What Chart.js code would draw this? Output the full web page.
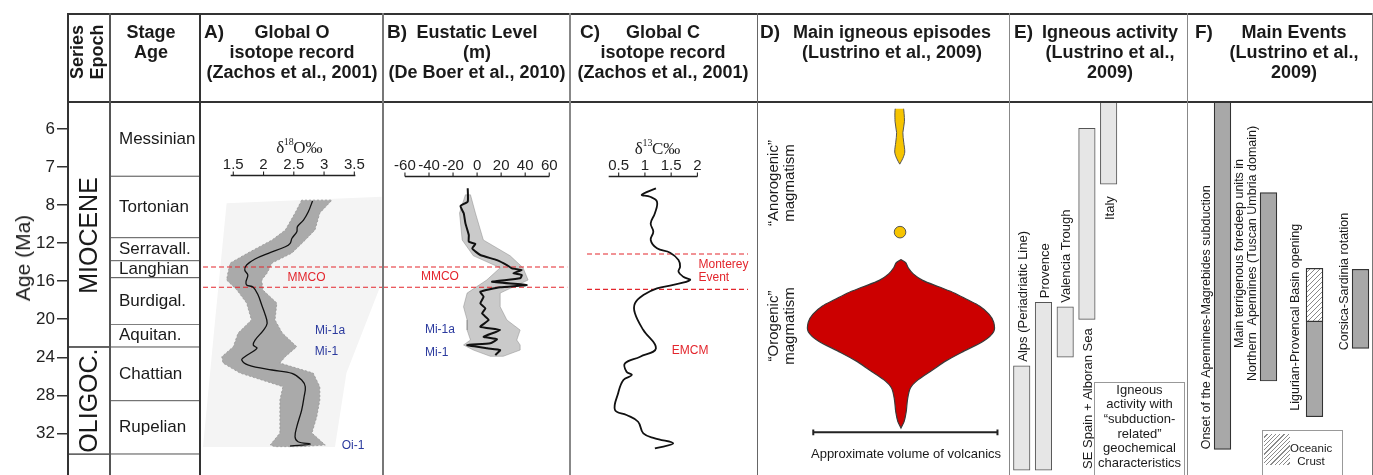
<!DOCTYPE html>
<html>
<head>
<meta charset="utf-8">
<script src="https://cdn.jsdelivr.net/npm/chart.js@4.4.1/dist/chart.umd.min.js"></script>
<style>
  html, body { margin: 0; padding: 0; background: #fff; }
  #fig { position: relative; width: 1373px; height: 475px; overflow: hidden; background: #fff;
         font-family: "Liberation Sans", Arial, sans-serif; color: #1a1a1a; }
  #fig canvas { position: absolute; top: 102px; }
  .t { position: absolute; white-space: nowrap; z-index: 6; }
  .hd { position: absolute; font-weight: bold; font-size: 18px; line-height: 20px; text-align: center;
        white-space: nowrap; width: 300px; top: 22px; z-index: 6; }
  .lt { position: absolute; font-weight: bold; font-size: 19px; line-height: 20px; top: 22px; z-index: 6; }
  .ln { position: absolute; z-index: 5; }
  .rot { position: absolute; transform: translate(-50%, -50%) rotate(-90deg); white-space: nowrap;
         text-align: center; z-index: 6; }
</style>
</head>
<body>
<div id="fig">
  <!-- table frame -->
  <div class="ln" style="left:67px;top:13px;width:1306px;height:2px;background:#333"></div>
  <div class="ln" style="left:67px;top:101px;width:1306px;height:2px;background:#333"></div>
  <div class="ln" style="left:67px;top:13px;width:2px;height:462px;background:#333"></div>
  <div class="ln" style="left:109px;top:13px;width:1.5px;height:462px;background:#555"></div>
  <div class="ln" style="left:199px;top:13px;width:2px;height:462px;background:#333"></div>
  <div class="ln" style="left:382px;top:13px;width:1.5px;height:462px;background:#777"></div>
  <div class="ln" style="left:569px;top:13px;width:1.5px;height:462px;background:#888"></div>
  <div class="ln" style="left:756.5px;top:13px;width:1.5px;height:462px;background:#666"></div>
  <div class="ln" style="left:1008.5px;top:13px;width:1.5px;height:462px;background:#888"></div>
  <div class="ln" style="left:1186.5px;top:13px;width:1.5px;height:462px;background:#888"></div>
  <div class="ln" style="left:1371.5px;top:13px;width:1.5px;height:462px;background:#777"></div>

  <!-- header -->
  <div class="rot" style="left:77px;top:52px;font-weight:bold;font-size:18px;">Series</div>
  <div class="rot" style="left:97px;top:52px;font-weight:bold;font-size:18px;">Epoch</div>
  <div class="hd" style="left:1px;">Stage<br>Age</div>
  <div class="lt" style="left:204px;">A)</div>
  <div class="hd" style="left:142px;">Global O<br>isotope record<br>(Zachos et al., 2001)</div>
  <div class="lt" style="left:387px;">B)</div>
  <div class="hd" style="left:327px;">Eustatic Level<br>(m)<br>(De Boer et al., 2010)</div>
  <div class="lt" style="left:580px;">C)</div>
  <div class="hd" style="left:513px;">Global C<br>isotope record<br>(Zachos et al., 2001)</div>
  <div class="lt" style="left:760px;">D)</div>
  <div class="hd" style="left:742px;">Main igneous episodes<br>(Lustrino et al., 2009)</div>
  <div class="lt" style="left:1014px;">E)</div>
  <div class="hd" style="left:960px;">Igneous activity<br>(Lustrino et al.,<br>2009)</div>
  <div class="lt" style="left:1195px;">F)</div>
  <div class="hd" style="left:1144px;">Main Events<br>(Lustrino et al.,<br>2009)</div>

  <!-- axis title -->
  <div class="rot" style="left:23px;top:258px;font-size:21px;color:#222;">Age (Ma)</div>

  <!-- D annotations -->
  <div class="rot" style="left:772px;top:183px;font-size:15px;">“Anorogenic”</div>
  <div class="rot" style="left:788px;top:183px;font-size:15px;">magmatism</div>
  <div class="rot" style="left:772px;top:326px;font-size:15px;">“Orogenic”</div>
  <div class="rot" style="left:788px;top:326px;font-size:15px;">magmatism</div>
  <div class="t" style="left:806px;top:446px;width:200px;text-align:center;font-size:13px;line-height:16px;">Approximate volume of volcanics</div>

  <!-- E legend box -->
  <div class="t" style="left:1094px;top:381.5px;width:89px;height:100px;border:1px solid #999;"></div>
  <div class="t" style="left:1094px;top:382.5px;width:91px;text-align:center;font-size:13px;line-height:14.7px;">Igneous<br>activity with<br>“subduction-<br>related”<br>geochemical<br>characteristics</div>

  <!-- F legend box -->
  <div class="t" style="left:1261.5px;top:430px;width:79px;height:50px;border:1px solid #999;"></div>
  <div class="t" style="left:1264px;top:433.5px;width:26px;height:31px;background:repeating-linear-gradient(135deg,#fff 0 2px,#8a8a8a 2px 3px);"></div>
  <div class="t" style="left:1290px;top:442px;width:42px;text-align:center;font-size:11.5px;line-height:13px;">Oceanic<br>Crust</div>
</div>

<script>
// ---------------- DATA ----------------
const AGE_TICKS = [6, 7, 8, 12, 16, 20, 24, 28, 32];
const AGE_TOP = 5.29;
const AGE_BOTTOM = 36.38;

const epochNames = ['MIOCENE', 'OLIGOC.', ''];
const epochBounds = [[5.0, 22.92], [22.92, 34.18], [34.18, 40]];

const stageNames = ['Messinian', 'Tortonian', 'Serravall.', 'Langhian', 'Burdigal.', 'Aquitan.', 'Chattian', 'Rupelian', ''];
const stageBounds = [[5.0, 7.24], [7.24, 11.43], [11.43, 13.85], [13.85, 15.63], [15.63, 20.54], [20.54, 22.92], [22.92, 28.57], [28.57, 34.18], [34.18, 40]];

// A) global d18O (Zachos et al., 2001)
const o18Ticks = [1.5, 2, 2.5, 3, 3.5];
const o18Age = [7.89, 8.70, 9.57, 10.27, 10.80, 11.49, 12.02, 12.38, 13.07, 13.67, 14.30, 14.83, 15.35, 16.06, 16.40, 16.64, 17.46, 18.51, 19.38, 20.43, 21.14, 22.19, 22.71, 23.06, 23.94, 24.29, 24.82, 25.34, 25.69, 26.39, 27.10, 28.15, 29.55, 31.30, 32.36, 32.88, 33.12, 33.23, 33.33];
const o18Val = [2.81, 2.74, 2.66, 2.56, 2.55, 2.47, 2.44, 2.36, 2.08, 1.86, 1.72, 1.69, 1.74, 1.71, 1.72, 1.83, 1.91, 1.97, 2.02, 2.06, 2.00, 1.86, 1.83, 1.89, 1.69, 1.64, 1.75, 2.14, 2.47, 2.63, 2.69, 2.67, 2.63, 2.55, 2.52, 2.57, 2.77, 2.63, 2.44];
const o18CloudAge = [7.87, 8.83, 10.62, 11.67, 13.04, 14.09, 15.14, 15.88, 16.93, 18.30, 20.08, 21.45, 22.89, 23.94, 24.61, 25.66, 27.10, 28.50, 30.25, 31.97, 33.23, 33.40];
const o18CloudMin = [2.63, 2.52, 2.36, 2.14, 1.74, 1.45, 1.41, 1.39, 1.56, 1.72, 1.80, 1.58, 1.50, 1.31, 1.33, 1.61, 2.32, 2.27, 2.27, 2.27, 2.11, 2.19];
const o18CloudMax = [3.13, 2.93, 2.85, 2.69, 2.47, 2.14, 2.06, 1.97, 1.99, 2.22, 2.19, 2.31, 2.55, 2.36, 2.27, 2.82, 2.93, 2.93, 2.88, 2.80, 3.02, 2.60];
const o18ShadeAge = [7.95, 7.78, 16.19, 25.66, 33.44, 33.44, 20.08];
const o18ShadeVal = [1.39, 3.95, 3.95, 3.37, 3.18, 1.00, 1.20];
const mmcoAges = [14.51, 16.64];

// B) eustatic level (De Boer et al., 2010)
const seaTicks = [-60, -40, -20, 0, 20, 40, 60];
const seaAge = [7.56, 7.91, 8.10, 8.86, 9.92, 11.15, 11.85, 12.09, 12.55, 13.25, 13.78, 14.30, 14.65, 14.83, 15.17, 15.35, 15.70, 16.06, 16.40, 16.64, 17.11, 17.64, 18.33, 18.86, 19.38, 20.08, 20.79, 21.14, 21.84, 22.11, 22.53, 22.71, 23.06, 23.24, 23.76];
const seaLevel = [-7.8, -7.8, -13.8, -11.1, -9.7, -6.9, -6.9, -1.4, -4.1, 2.7, 16.5, 24.8, 28.9, 37.2, 30.2, 37.2, 35.8, 12.4, 41.3, 19.2, 2.7, 5.4, 2.7, 6.9, 4.1, 9.6, 2.7, 19.2, 5.4, 16.5, 11.0, -8.3, 8.3, 19.2, 15.1];
const seaBandAge = [7.73, 8.83, 11.67, 13.33, 14.59, 15.88, 17.25, 18.69, 20.08, 21.14, 22.19, 22.71, 23.24, 23.90];
const seaBandMin = [-9.7, -14.6, -12.4, -3.1, 19.2, 8.0, -8.3, -11.3, -8.3, -8.3, -5.5, -11.3, -3.1, 11.0];
const seaBandMax = [-5.5, -1.4, 5.2, 27.5, 38.2, 42.4, 19.2, 19.2, 24.8, 35.8, 33.0, 35.8, 35.8, 21.7];

// C) global d13C (Zachos et al., 2001)
const c13Ticks = [0.5, 1, 1.5, 2];
const c13Age = [7.56, 7.73, 7.78, 7.91, 8.86, 9.92, 10.80, 11.67, 12.55, 13.01, 13.78, 14.48, 15.00, 15.53, 15.88, 16.40, 16.75, 17.46, 18.33, 19.38, 21.14, 23.06, 23.94, 24.64, 25.52, 25.87, 26.39, 27.79, 29.55, 30.07, 30.78, 32.00, 32.52, 33.05, 33.58];
const c13Val = [1.21, 0.94, 1.10, 1.23, 1.19, 1.11, 1.16, 1.11, 1.23, 1.48, 1.64, 1.67, 1.64, 1.73, 1.86, 1.54, 1.23, 0.97, 0.81, 0.81, 0.97, 1.21, 0.91, 0.62, 0.65, 0.75, 0.59, 0.49, 0.43, 0.65, 0.87, 0.97, 1.19, 1.54, 1.19];
const montereyAges = [13.14, 16.86];

// D) main igneous episodes (relative volume, half-width)
const orogenicAge = [13.60, 13.95, 14.48, 15.17, 15.88, 16.58, 17.28, 17.98, 18.68, 19.56, 20.43, 21.48, 22.53, 23.58, 24.64, 25.69, 26.74, 27.62, 28.84, 30.25, 31.30, 32.00];
const orogenicWidth = [0, 0.05, 0.075, 0.13, 0.23, 0.40, 0.57, 0.70, 0.83, 0.93, 0.98, 0.98, 0.87, 0.67, 0.48, 0.33, 0.18, 0.10, 0.07, 0.055, 0.033, 0];
const anorogenicAge = [5.20, 5.63, 5.94, 6.20, 6.47, 6.64, 6.80];
const anorogenicWidth = [0.038, 0.05, 0.033, 0.042, 0.053, 0.033, 0];
const anorogenicPulseAge = [10.62];

// E) igneous activity
const igneousNames = ['Alps (Periadriatic Line)', 'Provence', 'Valencia Trough', 'SE Spain + Alboran Sea', 'Italy'];
const igneousRanges = [[24.89, 35.86], [18.22, 35.86], [18.69, 24.00], [5.98, 20.01], [5.0, 7.45]];

// F) main events
const eventNames = [['Onset of the Apennines-Magrebides subduction'], ['Main terrigenous foredeep units in', 'Northern  Apennines (Tuscan Umbria domain)'], ['Ligurian-Provencal Basin opening'], ['Corsica-Sardinia rotation']];
const eventRanges = [[5.0, 33.68], [7.67, 26.50], [14.65, 30.25], [14.75, 23.06]];
const oceanicCrustRanges = [null, null, [14.65, 20.26], null];

// ---------------- AGE SCALE ----------------
function ageToIdx(a) {
  const T = AGE_TICKS, n = T.length;
  if (a <= T[0]) return (a - T[0]) / (T[1] - T[0]);
  if (a >= T[n - 1]) return (n - 1) + (a - T[n - 1]) / (T[n - 1] - T[n - 2]);
  for (let i = 0; i < n - 1; i++) if (a <= T[i + 1]) return i + (a - T[i]) / (T[i + 1] - T[i]);
  return n - 1;
}
function idxToAge(k) {
  const T = AGE_TICKS, n = T.length;
  if (k <= 0) return T[0] + k * (T[1] - T[0]);
  if (k >= n - 1) return T[n - 1] + (k - n + 1) * (T[n - 1] - T[n - 2]);
  const i = Math.floor(k);
  return T[i] + (k - i) * (T[i + 1] - T[i]);
}
class AgeScale extends Chart.LinearScale {
  static id = 'age';
  static defaults = { ticks: { callback: (v) => String(v) } };
  buildTicks() { return AGE_TICKS.map(v => ({ value: v })); }
  configure() {
    super.configure();
    this._startValue = ageToIdx(this.min);
    this._endValue = ageToIdx(this.max);
    this._valueRange = this._endValue - this._startValue;
  }
  getPixelForValue(v) {
    if (v === null || v === undefined || isNaN(v)) return NaN;
    return this.getPixelForDecimal((ageToIdx(v) - this._startValue) / this._valueRange);
  }
  getValueForPixel(p) {
    return idxToAge(this._startValue + this.getDecimalForPixel(p) * this._valueRange);
  }
}
Chart.register(AgeScale);
Chart.defaults.font.family = '"Liberation Sans", Arial, sans-serif';

// ---------------- HELPERS ----------------
const FIG = document.getElementById('fig');
const PLOT_H = 373;
const RED = '#e3262d', BLUE = '#2b3a9e';

function canvasAt(left, width) {
  const c = document.createElement('canvas');
  c.width = width; c.height = PLOT_H;
  c.style.left = left + 'px'; c.style.width = width + 'px'; c.style.height = PLOT_H + 'px';
  FIG.appendChild(c);
  return c;
}
function ageAxis(extra) {
  return Object.assign({ type: 'age', min: AGE_TOP, max: AGE_BOTTOM, reverse: true, display: false }, extra || {});
}
function baseOptions(xScale, yScale, padding) {
  return {
    responsive: false, maintainAspectRatio: false, animation: false, devicePixelRatio: 1,
    events: [],
    layout: { padding: padding || 0 },
    plugins: { legend: { display: false }, tooltip: { enabled: false } },
    scales: { x: xScale, y: yScale || ageAxis() }
  };
}
function pairs(xs, ages) { return ages.map((a, i) => ({ x: xs[i], y: a })); }
function bandPolygon(ages, lo, hi) {
  const pts = ages.map((a, i) => ({ x: lo[i], y: a }));
  for (let i = ages.length - 1; i >= 0; i--) pts.push({ x: hi[i], y: ages[i] });
  pts.push({ x: lo[0], y: ages[0] });
  return pts;
}
function mirrorPolygon(ages, hw) {
  const pts = ages.map((a, i) => ({ x: hw[i], y: a }));
  for (let i = ages.length - 1; i >= 0; i--) pts.push({ x: -hw[i], y: ages[i] });
  pts.push({ x: hw[0], y: ages[0] });
  return pts;
}
function hLine(age, x0, x1, color) {
  return { type: 'line', data: [{ x: x0, y: age }, { x: x1, y: age }], borderColor: color,
           borderWidth: 1.2, borderDash: [5, 3], pointRadius: 0, fill: false };
}

// draws rotated / horizontal labels attached to bar elements
const barText = {
  id: 'barText',
  afterDatasetsDraw(chart) {
    const ctx = chart.ctx, area = chart.chartArea;
    chart.data.datasets.forEach((ds, di) => {
      const cfg = ds.textCfg;
      if (!cfg) return;
      const meta = chart.getDatasetMeta(di);
      meta.data.forEach((el, i) => {
        let lines = cfg.labels[i];
        if (!lines || !lines.length) return;
        if (!Array.isArray(lines)) lines = [lines];
        const p = el.getProps(['x', 'y', 'base', 'width'], true);
        const top = Math.max(Math.min(p.y, p.base), area.top);
        const bot = Math.min(Math.max(p.y, p.base), area.bottom);
        const mode = Array.isArray(cfg.mode) ? cfg.mode[i] : cfg.mode;
        const gap = Array.isArray(cfg.gap) ? cfg.gap[i] : (cfg.gap || 0);
        const dy = Array.isArray(cfg.dy) ? cfg.dy[i] : (cfg.dy || 0);
        ctx.save();
        ctx.font = cfg.font;
        ctx.fillStyle = cfg.color || '#1a1a1a';
        ctx.textBaseline = 'middle';
        if (mode === 'left') {
          ctx.textAlign = 'left';
          ctx.fillText(lines[0], p.x - p.width / 2 + cfg.dx, (top + bot) / 2 + dy);
          ctx.restore();
          return;
        }
        const lh = cfg.lineHeight || 14;
        const widths = lines.map(s => ctx.measureText(s).width);
        const maxW = Math.max(...widths);
        let ox = p.x + (cfg.dx || 0), oy = (top + bot) / 2;
        if (mode === 'above') oy = top - gap;
        else if (mode === 'below') oy = bot + gap;
        else if (mode === 'sideStart') { ox = p.x - p.width / 2 - gap; oy = bot; }
        else if (mode === 'sideEnd') { ox = p.x - p.width / 2 - gap; oy = top; }
        oy += dy;
        ctx.translate(ox, oy);
        ctx.rotate(-Math.PI / 2);
        ctx.textAlign = 'left';
        lines.forEach((s, k) => {
          const ly = -(lines.length - 1 - k) * lh;
          let lx;
          if (mode === 'vcenter') lx = -widths[k] / 2;
          else if (mode === 'above' || mode === 'sideStart') lx = (maxW - widths[k]) / 2;
          else lx = -maxW + (maxW - widths[k]) / 2;
          ctx.fillText(s, lx, ly);
        });
        ctx.restore();
      });
    });
  }
};

// small in-panel value axis drawn through the chart's own x scale
function miniAxis(o) {
  return {
    id: 'miniAxis',
    afterDatasetsDraw(chart) {
      const ctx = chart.ctx, xs = chart.scales.x, ys = chart.scales.y;
      const y = Math.round(ys.getPixelForValue(o.age)) + 0.5;
      ctx.save();
      ctx.strokeStyle = '#222'; ctx.fillStyle = '#222'; ctx.lineWidth = 1.4;
      ctx.beginPath();
      ctx.moveTo(xs.getPixelForValue(o.from), y);
      ctx.lineTo(xs.getPixelForValue(o.to), y);
      ctx.stroke();
      ctx.lineWidth = 1.1;
      ctx.font = '15px "Liberation Sans"'; ctx.textAlign = 'center'; ctx.textBaseline = 'middle';
      o.ticks.forEach(v => {
        const x = xs.getPixelForValue(v);
        ctx.beginPath(); ctx.moveTo(x, y); ctx.lineTo(x, y - 4); ctx.stroke();
        ctx.fillText(String(v), x, y - 11);
      });
      if (o.title) {
        const [a, sup, b] = o.title;
        const big = '17px "Liberation Serif"', small = '10px "Liberation Serif"';
        ctx.font = big; const wa = ctx.measureText(a).width, wb = ctx.measureText(b).width;
        ctx.font = small; const ws = ctx.measureText(sup).width;
        let x = xs.getPixelForValue(o.titleAt) - (wa + ws + wb) / 2;
        const bl = y - 23;
        ctx.textAlign = 'left'; ctx.textBaseline = 'alphabetic';
        ctx.font = big; ctx.fillText(a, x, bl); x += wa;
        ctx.font = small; ctx.fillText(sup, x - 0.5, bl - 8); x += ws;
        ctx.font = big; ctx.fillText(b, x - 1, bl);
      }
      ctx.restore();
    }
  };
}
function notes(list) {
  return {
    id: 'notes',
    afterDatasetsDraw(chart) {
      const ctx = chart.ctx, xs = chart.scales.x, ys = chart.scales.y;
      ctx.save();
      ctx.font = '12px "Liberation Sans"'; ctx.textBaseline = 'middle';
      list.forEach(n => {
        ctx.fillStyle = n.color; ctx.textAlign = n.align || 'center';
        ctx.fillText(n.text, xs.getPixelForValue(n.x), ys.getPixelForValue(n.age));
      });
      ctx.restore();
    }
  };
}

const hatch = (() => {
  const c = document.createElement('canvas'); c.width = 5; c.height = 5;
  const g = c.getContext('2d');
  g.fillStyle = '#fff'; g.fillRect(0, 0, 5, 5);
  g.strokeStyle = '#7a7a7a'; g.lineWidth = 0.9;
  g.beginPath();
  g.moveTo(0, 5); g.lineTo(5, 0);
  g.moveTo(-1, 1); g.lineTo(1, -1);
  g.moveTo(4, 6); g.lineTo(6, 4);
  g.stroke();
  return g.createPattern(c, 'repeat');
})();

// ---------------- AGE AXIS + EPOCHS ----------------
new Chart(canvasAt(0, 110), {
  type: 'bar',
  data: { labels: ['epoch'], datasets: [{
    data: epochBounds.map(r => ({ x: 'epoch', y: r })),
    backgroundColor: '#fff', borderColor: '#333',
    borderWidth: { top: 1, bottom: 1, left: 0, right: 0 }, borderSkipped: false,
    categoryPercentage: 1, barPercentage: 1,
    textCfg: { labels: epochNames, mode: 'vcenter', dx: 1, dy: [11, 0, 0], font: '25px "Liberation Sans"', color: '#1a1a1a' }
  }]},
  options: baseOptions({ type: 'category', display: false }, ageAxis({
    display: true, position: 'left',
    border: { display: false },
    grid: { drawOnChartArea: false, drawTicks: true, tickLength: 11, color: '#333', lineWidth: 1.5 },
    ticks: { autoSkip: false, padding: 2, color: '#222', font: { size: 17 } },
    afterFit(s) { s.width = 68; s.paddingTop = 0; s.paddingBottom = 0; }
  })),
  plugins: [barText]
});

// ---------------- STAGES ----------------
new Chart(canvasAt(110, 90), {
  type: 'bar',
  data: { labels: ['stage'], datasets: [{
    data: stageBounds.map(r => ({ x: 'stage', y: r })),
    backgroundColor: '#fff', borderColor: '#555',
    borderWidth: { top: 0.8, bottom: 0.8, left: 0, right: 0 }, borderSkipped: false,
    categoryPercentage: 1, barPercentage: 1,
    textCfg: { labels: stageNames, mode: 'left', dx: 9, font: '17px "Liberation Sans"', color: '#1a1a1a' }
  }]},
  options: baseOptions({ type: 'category', display: false }),
  plugins: [barText]
});

// ---------------- A) d18O ----------------
new Chart(canvasAt(200, 183), {
  type: 'line',
  data: { datasets: [
    { indexAxis: 'y', data: pairs(o18Val, o18Age), borderColor: '#111', borderWidth: 1.3,
      pointRadius: 0, tension: 0.35, fill: false },
    hLine(mmcoAges[0], 1.0, 3.974, RED),
    hLine(mmcoAges[1], 1.0, 3.974, RED),
    { indexAxis: 'y', data: bandPolygon(o18CloudAge, o18CloudMin, o18CloudMax), borderColor: 'rgba(150,150,150,0.8)',
      borderWidth: 1, borderDash: [2, 2], backgroundColor: '#aaaaaa', pointRadius: 0, tension: 0, fill: 'shape' },
    { indexAxis: 'y', data: pairs(o18ShadeVal, o18ShadeAge).concat([{ x: o18ShadeVal[0], y: o18ShadeAge[0] }]),
      borderColor: 'rgba(0,0,0,0)', borderWidth: 0, backgroundColor: '#f4f4f4', pointRadius: 0, tension: 0, fill: 'shape' }
  ]},
  options: baseOptions({ type: 'linear', min: 0.95, max: 3.974, display: false, bounds: 'data' }),
  plugins: [
    miniAxis({ age: 7.209, from: 1.457, to: 3.517, ticks: o18Ticks, title: ['δ', '18', 'O‰'], titleAt: 2.6 }),
    notes([
      { text: 'MMCO', x: 2.71, age: 15.64, color: RED },
      { text: 'Mi-1a', x: 3.10, age: 21.24, color: BLUE },
      { text: 'Mi-1', x: 3.04, age: 23.45, color: BLUE },
      { text: 'Oi-1', x: 3.48, age: 33.30, color: BLUE }
    ])
  ]
});

// ---------------- B) eustatic level ----------------
new Chart(canvasAt(383, 187), {
  type: 'line',
  data: { datasets: [
    { indexAxis: 'y', data: pairs(seaLevel, seaAge), borderColor: '#111', borderWidth: 2,
      pointRadius: 0, tension: 0.15, fill: false },
    hLine(mmcoAges[0], -78.25, 75, RED),
    hLine(mmcoAges[1], -78.25, 75, RED),
    { indexAxis: 'y', data: bandPolygon(seaBandAge, seaBandMin, seaBandMax), borderColor: 'rgba(120,120,120,0.5)',
      borderWidth: 0.8, backgroundColor: 'rgba(150,150,150,0.5)', pointRadius: 0, tension: 0, fill: 'shape' }
  ]},
  options: baseOptions({ type: 'linear', min: -78.25, max: 77.26, display: false, bounds: 'data' }),
  plugins: [
    miniAxis({ age: 7.236, from: -60, to: 60, ticks: seaTicks }),
    notes([
      { text: 'MMCO', x: -30.9, age: 15.53, color: RED },
      { text: 'Mi-1a', x: -30.9, age: 21.06, color: BLUE },
      { text: 'Mi-1', x: -33.6, age: 23.48, color: BLUE }
    ])
  ]
});

// ---------------- C) d13C ----------------
new Chart(canvasAt(570, 187), {
  type: 'line',
  data: { datasets: [
    { indexAxis: 'y', data: pairs(c13Val, c13Age), borderColor: '#111', borderWidth: 1.8,
      pointRadius: 0, tension: 0.4, fill: false },
    hLine(montereyAges[0], -0.103, 2.964, RED),
    hLine(montereyAges[1], -0.103, 2.964, RED)
  ]},
  options: baseOptions({ type: 'linear', min: -0.427, max: 3.135, display: false, bounds: 'data' }),
  plugins: [
    miniAxis({ age: 7.236, from: 0.31, to: 2.0, ticks: c13Ticks, title: ['δ', '13', 'C‰'], titleAt: 1.25 }),
    notes([
      { text: 'Monterey', x: 2.02, age: 14.23, color: RED, align: 'left' },
      { text: 'Event', x: 2.02, age: 15.64, color: RED, align: 'left' },
      { text: 'EMCM', x: 1.86, age: 23.31, color: RED }
    ])
  ]
});

// ---------------- D) main igneous episodes ----------------
new Chart(canvasAt(757, 252), {
  type: 'line',
  data: { datasets: [
    { data: anorogenicPulseAge.map(a => ({ x: -0.01, y: a })), showLine: false, pointRadius: 5.8,
      pointBackgroundColor: '#f6c400', pointBorderColor: '#555', pointBorderWidth: 1 },
    { indexAxis: 'y', data: mirrorPolygon(anorogenicAge, anorogenicWidth).map(p => ({ x: p.x - 0.013, y: p.y })),
      borderColor: '#555', borderWidth: 1, backgroundColor: '#f6c400', pointRadius: 0, tension: 0.3, fill: 'shape' },
    { indexAxis: 'y', data: mirrorPolygon(orogenicAge, orogenicWidth), borderColor: '#3a3a3a', borderWidth: 1.2,
      backgroundColor: '#cc0000', pointRadius: 0, tension: 0.3, fill: 'shape' },
    { data: [{ x: -0.927, y: 32.15 }, { x: -0.927, y: 32.78 }, { x: -0.927, y: 32.46 },
             { x: 1.02, y: 32.46 }, { x: 1.02, y: 32.15 }, { x: 1.02, y: 32.78 }],
      borderColor: '#222', borderWidth: 2, pointRadius: 0, tension: 0, fill: false }
  ]},
  options: baseOptions({ type: 'linear', min: -1.45, max: 1.07, display: false, bounds: 'data' })
});

// ---------------- E) igneous activity ----------------
new Chart(canvasAt(1009, 178), {
  type: 'bar',
  data: { labels: igneousNames, datasets: [{
    data: igneousRanges,
    backgroundColor: '#e6e6e6', borderColor: '#555', borderWidth: 1, borderSkipped: false,
    barThickness: 16.5,
    textCfg: { labels: igneousNames, mode: ['above', 'above', 'above', 'below', 'below'], gap: [4, 4, 4, 9, 12],
               dx: 1.5, font: '13px "Liberation Sans"', color: '#1a1a1a' }
  }]},
  options: baseOptions({ type: 'category', display: false }, ageAxis(), { left: 1.87, right: 67.5, top: 0, bottom: 0 }),
  plugins: [barText]
});

// ---------------- F) main events ----------------
new Chart(canvasAt(1187, 200), {
  type: 'bar',
  data: { labels: eventNames.map(l => l.join(' ')), datasets: [
    { data: oceanicCrustRanges, backgroundColor: hatch, borderColor: '#333', borderWidth: 1.2,
      borderSkipped: false, barThickness: 16.7, grouped: false },
    { data: eventRanges, backgroundColor: '#a8a8a8', borderColor: '#333', borderWidth: 1.2,
      borderSkipped: false, barThickness: 16.7, grouped: false,
      textCfg: { labels: eventNames, mode: 'sideStart', gap: [8, 8, 11, 8], dy: [0, 0, -6, 2],
                 lineHeight: 13, font: '12.5px "Liberation Sans"', color: '#1a1a1a' } }
  ]},
  options: baseOptions({ type: 'category', display: false }, ageAxis(), { left: 12.5, right: 3.5, top: 0, bottom: 0 }),
  plugins: [barText]
});
</script>
</body>
</html>
